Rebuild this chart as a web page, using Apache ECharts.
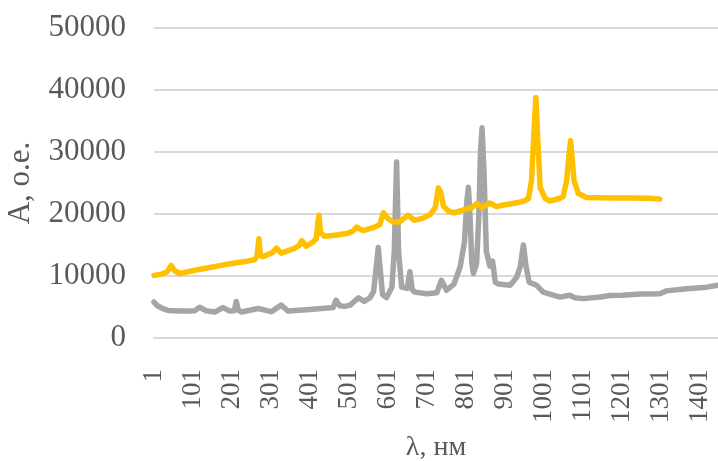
<!DOCTYPE html>
<html>
<head>
<meta charset="utf-8">
<script src="https://cdn.jsdelivr.net/npm/echarts@6/dist/echarts.min.js"></script>
<style>html,body{margin:0;padding:0;background:#fff;}#chart{width:718px;height:461px;}</style>
</head>
<body>
<div id="chart"></div>
<script>
// Category count (wavelength index 1..N)
const N = 1447;
const LABEL_STEP = 100;
const yTicks = [0, 10000, 20000, 30000, 40000, 50000];

// Yellow series (sample positions and values)
const yellowX = [1,20,35,45,55,67,120,180,230,259,265,270,274,280,305,315,327,360,373,380,391,409,417,421,424,428,439,470,498,510,521,537,563,580,589,602,615,630,653,668,690,709,722,730,736,743,755,770,802,815,829,842,862,879,900,931,950,961,969,975,980,985,991,1004,1016,1040,1050,1059,1065,1069,1073,1078,1089,1110,1170,1230,1270,1298];
const yellowY = [10100,10300,10700,11700,10800,10400,11100,11800,12300,12600,13200,16000,13300,13100,13800,14500,13700,14400,14900,15700,14800,15500,16000,18500,19800,17000,16400,16600,16900,17200,17900,17300,17800,18300,20200,19200,18700,18700,19800,19000,19300,19900,21000,24200,23500,21300,20500,20200,20800,21000,21700,21000,21800,21200,21500,21800,22100,22500,25400,33000,38800,32000,24300,22500,22100,22500,22800,25400,29500,31800,29000,25400,23300,22650,22600,22600,22550,22400];

// Gray series
const grayX = [1,10,25,37,68,93,105,118,135,157,178,195,207,212,217,225,268,302,327,345,400,447,460,468,477,490,504,525,540,555,564,570,576,581,587,597,611,617,623,628,636,650,657,663,670,700,726,738,751,770,786,797,803,807,811,816,820,828,834,838,842,847,853,862,869,876,884,914,931,940,948,955,963,982,999,1020,1042,1067,1080,1101,1145,1170,1200,1250,1298,1315,1360,1418,1447];
const grayY = [5800,5200,4700,4450,4350,4350,4400,4950,4400,4200,4900,4350,4400,5900,4500,4200,4750,4250,5300,4350,4600,4850,4900,6100,5200,5100,5300,6500,5900,6500,7500,11000,14600,11000,7000,6500,8200,14000,28400,14000,8200,8000,10700,7800,7400,7150,7300,9300,7700,8700,11500,15500,22000,24300,20000,12000,10400,12000,20000,30000,33900,27000,14000,11600,12400,9000,8700,8500,9800,11500,15000,11500,9000,8500,7400,7000,6600,6900,6500,6350,6600,6850,6900,7100,7150,7600,7900,8200,8500];

const categories = Array.from({length: N}, (_, i) => String(i + 1));
const toPairs = (xs, ys) => xs.map((x, i) => [x - 1, ys[i]]);

const FONT = 'Liberation Serif';
const chart = echarts.init(document.getElementById('chart'));
chart.setOption({
  animation: false,
  backgroundColor: '#ffffff',
  grid: {left: 154, right: 0, top: 28, bottom: 123, containLabel: false, outerBoundsMode: 'none'},
  xAxis: {
    type: 'category',
    data: categories,
    boundaryGap: false,
    name: 'λ, нм',
    nameLocation: 'middle',
    nameGap: 96,
    nameTextStyle: {fontFamily: FONT, fontSize: 28, color: '#595959'},
    axisLine: {show: true, lineStyle: {color: '#D9D9D9', width: 2}},
    axisTick: {show: false},
    axisLabel: {
      interval: LABEL_STEP - 1,
      rotate: 90,
      margin: 31,
      fontFamily: FONT, fontSize: 27, color: '#595959'
    },
    splitLine: {show: false}
  },
  yAxis: {
    type: 'value',
    min: yTicks[0],
    max: yTicks[yTicks.length - 1],
    interval: 10000,
    name: 'А, о.е.',
    nameLocation: 'middle',
    nameRotate: 90,
    nameGap: 118,
    nameTextStyle: {fontFamily: FONT, fontSize: 31, color: '#595959'},
    axisLine: {show: false},
    axisTick: {show: false},
    axisLabel: {margin: 28, fontFamily: FONT, fontSize: 31, color: '#595959', formatter: v => String(v)},
    splitLine: {show: true, lineStyle: {color: '#D9D9D9', width: 2}}
  },
  series: [
    {
      type: 'line',
      data: toPairs(grayX, grayY),
      showSymbol: false,
      symbol: 'none',
      lineStyle: {color: '#A5A5A5', width: 5.5, cap: 'round', join: 'round'},
      z: 2
    },
    {
      type: 'line',
      data: toPairs(yellowX, yellowY),
      showSymbol: false,
      symbol: 'none',
      lineStyle: {color: '#FFC000', width: 5.5, cap: 'round', join: 'round'},
      z: 3
    }
  ]
});
</script>
</body>
</html>
